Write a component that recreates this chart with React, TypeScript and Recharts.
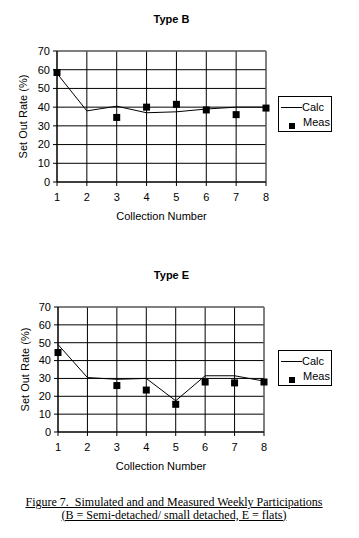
import React from 'react';
import {
  ComposedChart,
  Line,
  Scatter,
  XAxis,
  YAxis,
  CartesianGrid,
  ReferenceLine,
  Legend,
} from 'recharts';

const collections = [1, 2, 3, 4, 5, 6, 7, 8];
const yTicks = [0, 10, 20, 30, 40, 50, 60, 70];

// Type B (semi-detached / small detached)
const calcB = [58, 38, 40.5, 37, 37.5, 39, 40, 40];
const measB = [58.5, null, 34.5, 40, 41.5, 38.5, 36, 39.5];

// Type E (flats)
const calcE = [49, 30.5, 29.5, 30, 17.5, 31.5, 31.5, 28.5];
const measE = [44.5, null, 26, 23.5, 15.5, 28, 27.5, 28];

const FONT = '"Liberation Sans", Arial, sans-serif';

const Square = (props: any) => {
  const { cx, cy } = props;
  if (cx == null || cy == null) return null;
  return <rect x={cx - 3.5} y={cy - 3.5} width={7} height={7} fill="#000" />;
};

const LegendBox = () => (
  <div
    style={{
      boxSizing: 'border-box',
      width: 54,
      height: 36,
      border: '1px solid #000',
      background: '#fff',
      position: 'relative',
      fontFamily: FONT,
      fontSize: 11,
      color: '#000',
    }}
  >
    <div style={{ position: 'absolute', left: 2, top: 10, width: 21, height: 1, background: '#000' }} />
    <div style={{ position: 'absolute', left: 23, top: 4, lineHeight: '12px' }}>Calc</div>
    <div style={{ position: 'absolute', left: 10, top: 26, width: 6, height: 6, background: '#000' }} />
    <div style={{ position: 'absolute', left: 24, top: 19, lineHeight: '12px' }}>Meas</div>
  </div>
);

interface PanelProps {
  title: string;
  calc: number[];
  meas: (number | null)[];
  top: number;
  titleTop: number;
  plotTop: number;
  plotLeft: number;
  plotRight: number;
  labelX: number;
  legendLeft: number;
  legendTop: number;
}

function Panel({ title, calc, meas, top, titleTop, plotTop, plotLeft, plotRight, labelX, legendLeft, legendTop }: PanelProps) {
  const rows = collections.map((n, i) => ({ n, calc: calc[i] }));
  const measRows = collections
    .map((n, i) => ({ n, meas: meas[i] }))
    .filter((r) => r.meas != null);

  const yLabel = (props: any) => {
    const vb = props.viewBox || {};
    const x = (vb.x || 0) + labelX;
    const y = (vb.y || 0) + (vb.height || 0) / 2;
    return (
      <text
        x={x}
        y={y}
        transform={`rotate(-90, ${x}, ${y})`}
        textAnchor="middle"
        dy="0.35em"
        fontSize={11}
        fontFamily={FONT}
        fill="#000"
      >
        Set Out Rate (%)
      </text>
    );
  };

  return (
    <div style={{ position: 'absolute', left: 0, top, width: 359, height: 230 }}>
      <div
        style={{
          position: 'absolute',
          left: 0,
          top: titleTop,
          width: 343,
          textAlign: 'center',
          fontFamily: FONT,
          fontWeight: 'bold',
          fontSize: 11,
          lineHeight: '11px',
        }}
      >
        {title}
      </div>
      <ComposedChart
        width={359}
        height={230}
        data={rows}
        margin={{ top: plotTop, right: plotRight, bottom: 8, left: 0 }}
        style={{ fontFamily: FONT }}
      >
        <CartesianGrid stroke="#000" strokeWidth={1} />
        <XAxis
          type="number"
          dataKey="n"
          domain={[1, 8]}
          ticks={collections}
          interval={0}
          height={40}
          tickSize={4}
          tickMargin={7}
          axisLine={{ stroke: '#000' }}
          tickLine={{ stroke: '#000' }}
          tick={{ fill: '#000', fontSize: 11 }}
          label={{ value: 'Collection Number', position: 'insideBottom', offset: 2, fill: '#000', fontSize: 11 }}
        />
        <YAxis
          type="number"
          domain={[0, 70]}
          ticks={yTicks}
          interval={0}
          width={plotLeft}
          tickSize={4}
          tickMargin={3}
          axisLine={{ stroke: '#000' }}
          tickLine={{ stroke: '#000' }}
          tick={{ fill: '#000', fontSize: 11 }}
          label={{ content: yLabel }}
        />
        <ReferenceLine y={70} stroke="#808080" />
        <ReferenceLine x={8} stroke="#808080" />
        <Line
          type="linear"
          dataKey="calc"
          name="Calc"
          stroke="#000"
          strokeWidth={1}
          dot={false}
          activeDot={false}
          isAnimationActive={false}
        />
        <Scatter data={measRows} dataKey="meas" name="Meas" shape={Square} isAnimationActive={false} />
        <Legend
          layout="vertical"
          align="center"
          verticalAlign="middle"
          content={LegendBox}
          wrapperStyle={{ left: legendLeft, top: legendTop, width: 54 }}
        />
      </ComposedChart>
    </div>
  );
}

export default function App() {
  return (
    <div style={{ position: 'absolute', left: 0, top: 0, width: 359, height: 538, background: '#fff' }}>
      <Panel
        title="Type B"
        calc={calcB}
        meas={measB}
        top={0}
        titleTop={14}
        plotTop={51}
        plotLeft={57}
        plotRight={93}
        labelX={23}
        legendLeft={278}
        legendTop={96}
      />
      <Panel
        title="Type E"
        calc={calcE}
        meas={measE}
        top={250}
        titleTop={20}
        plotTop={57}
        plotLeft={58}
        plotRight={95}
        labelX={25}
        legendLeft={278}
        legendTop={100}
      />
      <div
        style={{
          position: 'absolute',
          left: 0,
          top: 496,
          width: 348,
          textAlign: 'center',
          fontFamily: '"Liberation Serif", "Times New Roman", serif',
          fontSize: 12,
          lineHeight: '12.5px',
          textDecoration: 'underline',
          color: '#000',
        }}
      >
        Figure 7.&nbsp; Simulated and and Measured Weekly Participations
        <br />
        (B = Semi-detached/ small detached, E = flats)
      </div>
    </div>
  );
}
